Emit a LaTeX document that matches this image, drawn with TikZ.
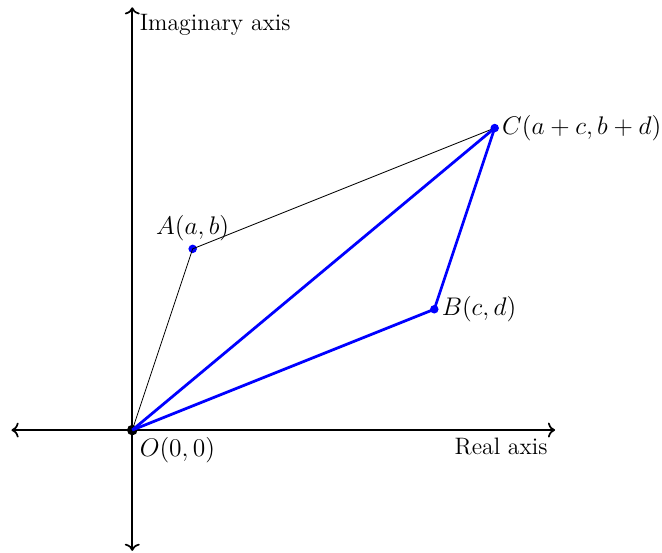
\documentclass[tikz,border=0pt]{standalone}
\usetikzlibrary{arrows.meta}

\begin{document}
\begin{tikzpicture}[font=\large,
            axis/.style={<->, thick},
            axlab/.style={font=\fontsize{11.2}{13.5}\selectfont},
            side/.style={black},
            sum/.style={blue, line width=1.3pt},
            pt/.style={circle, fill=blue, inner sep=0pt, minimum size=4pt}]

            \useasboundingbox (-2.19,-2.02) rectangle (8.77,7.12);

            % eixos
            \coordinate (xl) at (-2,0);
            \coordinate (xr) at (7,0);
            \coordinate (yb) at (0,-2);
            \coordinate (yt) at (0,7);
            \draw[axis] (xl) -- (xr);
            \draw[axis] (yb) -- (yt);
            \node[axlab, anchor=north west] (imlab) at (yt) {Imaginary axis};
            \node[axlab, below left] (relab) at (xr) {Real axis};

            % pontos
            \node[pt, fill=black, minimum size=5pt] (O) at (0,0) {};
            \node[pt] (A) at (1,3) {};
            \node[pt] (B) at (5,2) {};
            \node[pt] (C) at (6,5) {};
            \node[below right] at (O) {$O(0,0)$};
            \node[above] at (A) {$A(a,b)$};
            \node[right] at (B) {$B(c,d)$};
            \node[right] at (C) {$C(a+c,b+d)$};

            % paralelogramo
            \draw[side] (O.center) -- (A.center) -- (C.center);
            \draw[sum] (O.center) -- (B.center) -- (C.center);
            \draw[sum] (O.center) -- (C.center);
        \end{tikzpicture}
\end{document}
